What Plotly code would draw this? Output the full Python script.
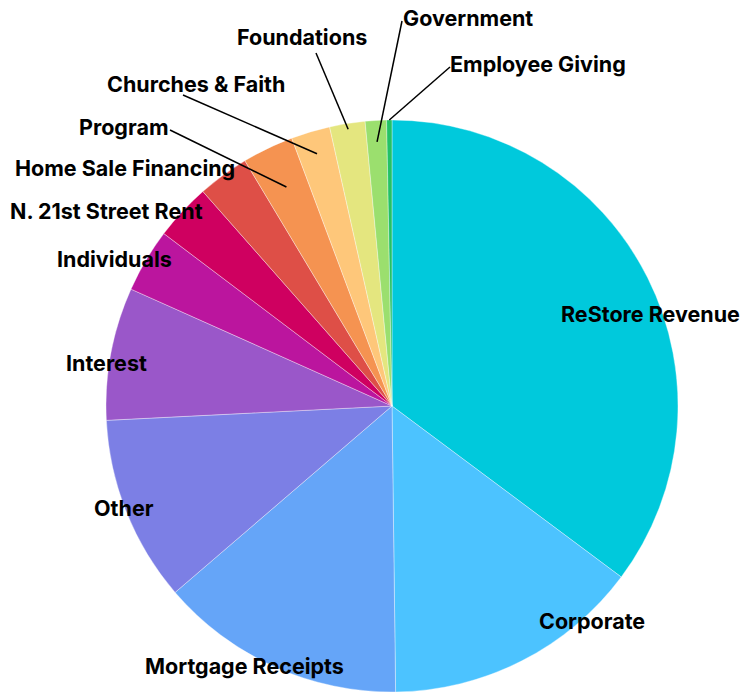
import math
import plotly.graph_objects as go

# ---- data ----
categories = ["ReStore Revenue", "Corporate", "Mortgage Receipts", "Other", "Interest",
              "Individuals", "N. 21st Street Rent", "Home Sale Financing", "Program",
              "Churches & Faith", "Foundations", "Government", "Employee Giving"]
values = [35.2, 14.6, 13.9, 10.5, 7.5, 3.6, 3.2, 2.9, 2.9, 2.2, 2.0, 1.2, 0.3]
colors = ["#00C9DC", "#4CC3FF", "#65A5F8", "#7C7FE5", "#9A57C9", "#BB159E", "#CF0060",
          "#DE4F47", "#F59351", "#FEC77A", "#E4E67F", "#9BDF6E", "#22C266"]

# ---- layout (pixels in the 743x692 page) ----
W, H = 743, 692
CX, CY, R = 392, 406, 286
# label text centres (px)
label_pos = {
    "ReStore Revenue": (650, 314),
    "Corporate": (592, 621),
    "Mortgage Receipts": (244, 666),
    "Other": (124, 508),
    "Interest": (106, 363),
    "Individuals": (114, 259),
    "N. 21st Street Rent": (106, 211),
    "Home Sale Financing": (125, 168),
    "Program": (124, 127),
    "Churches & Faith": (196, 84),
    "Foundations": (302, 37),
    "Government": (468, 18),
    "Employee Giving": (538, 64),
}
# leader lines: label-side start (px), radius fraction of slice-side end
leaders = {
    "Program": ((170, 130), 0.85),
    "Churches & Faith": ((183, 95), 0.92),
    "Foundations": ((316, 53), 0.98),
    "Government": ((402, 21), 0.925),
    "Employee Giving": ((450, 67), 1.0),
}

def px2paper(x, y):
    return x / W, 1 - y / H

fig = go.Figure(go.Pie(
    labels=categories, values=values, sort=False, direction="clockwise", rotation=0,
    marker=dict(colors=colors, line=dict(color="rgba(255,255,255,0.6)", width=0.6)),
    textinfo="none", hoverinfo="label+percent", showlegend=False,
    domain=dict(x=[(CX - R) / W, (CX + R) / W],
                y=[max(0, 1 - (CY + R) / H), 1 - (CY - R) / H]),
))

total = sum(values)
cum = 0.0
mids = {}
for c, v in zip(categories, values):
    mids[c] = (cum + v / 2) / total * 2 * math.pi
    cum += v

font = dict(family="Inter, Liberation Sans, sans-serif", size=21.5, color="#000000", weight="bold")
annotations = []
shapes = []
for c in categories:
    x, y = px2paper(*label_pos[c])
    annotations.append(dict(x=x, y=y, xref="paper", yref="paper", text=c, showarrow=False,
                            xanchor="center", yanchor="middle", font=font))
    if c in leaders:
        (sx, sy), f = leaders[c]
        th = mids[c]
        ex = CX + R * f * math.sin(th)
        ey = CY - R * f * math.cos(th)
        x0, y0 = px2paper(sx, sy)
        x1, y1 = px2paper(ex, ey)
        shapes.append(dict(type="line", xref="paper", yref="paper", x0=x0, y0=y0, x1=x1, y1=y1,
                           line=dict(color="#000000", width=1.5)))

fig.update_layout(width=W, height=H, margin=dict(l=0, r=0, t=0, b=0),
                  paper_bgcolor="white", plot_bgcolor="white",
                  annotations=annotations, shapes=shapes)
fig.write_html("out.html", config={"displayModeBar": False},
               post_script="document.body.style.margin='0';document.body.style.overflow='hidden';")
